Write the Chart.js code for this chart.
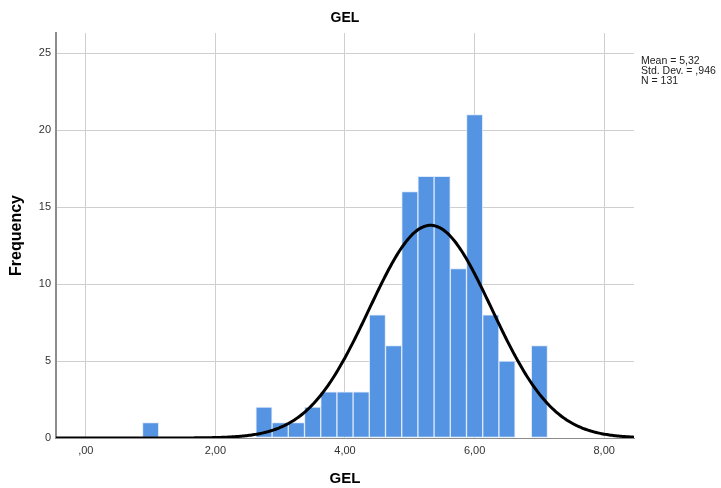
<!DOCTYPE html>
<html>
<head>
<meta charset="utf-8">
<script src="https://cdn.jsdelivr.net/npm/chart.js@4/dist/chart.umd.min.js"></script>
<style>
  html, body { margin: 0; padding: 0; background: #ffffff; }
  #wrap { width: 721px; height: 488px; }
</style>
</head>
<body>
<div id="wrap"><canvas id="c" width="721" height="488"></canvas></div>
<script>
// Histogram of GEL: bin centres (width 0.25) and their frequencies
const binCenters = [1.00, 2.75, 3.00, 3.25, 3.50, 3.75, 4.00, 4.25, 4.50, 4.75, 5.00, 5.25, 5.50, 5.75, 6.00, 6.25, 6.50, 6.75, 7.00];
const binCounts  = [1,    2,    1,    1,    2,    3,    3,    3,    8,    6,    16,   17,   17,   11,   21,   8,    5,    0,    6];
const binWidth = 0.25;

// Summary statistics shown beside the plot
const statMean = 5.32;
const statSD = 0.946;
const statN = 131;
const statLines = ['Mean = 5,32', 'Std. Dev. = ,946', 'N = 131'];
const chartTitle = 'GEL';

// Axis ticks
const xTicks = [0, 2, 4, 6, 8];
const yTicks = [0, 5, 10, 15, 20, 25];
const xMin = -0.46, xMax = 8.46;
const yMax = 26.3;

// Fitted normal curve, scaled to the histogram (N * bin width)
const curvePts = [];
for (let x = xMin; x <= xMax + 1e-9; x += 0.02) {
  const z = (x - statMean) / statSD;
  const dens = Math.exp(-0.5 * z * z) / (statSD * Math.sqrt(2 * Math.PI));
  curvePts.push({ x: x, y: dens * statN * binWidth });
}

const fmtX = v => {
  const s = v.toFixed(2).replace('.', ',');
  return s.startsWith('0,') ? s.slice(1) : s;
};

const FONT = '"Liberation Sans", Arial, sans-serif';

// Title centred over the plot area, plus the statistics block on the right
const annotations = {
  id: 'annotations',
  afterDraw(chart) {
    const ctx = chart.ctx;
    const area = chart.chartArea;
    ctx.save();
    ctx.fillStyle = '#000';
    ctx.font = 'bold 14px ' + FONT;
    ctx.textBaseline = 'middle';
    ctx.textAlign = 'center';
    ctx.fillText(chartTitle, (area.left + area.right) / 2, 18);

    ctx.fillStyle = '#222';
    ctx.font = '10.5px ' + FONT;
    ctx.textAlign = 'left';
    statLines.forEach((t, i) => ctx.fillText(t, 641, 61 + i * 10));
    ctx.restore();
  }
};

new Chart(document.getElementById('c'), {
  type: 'bar',
  data: {
    datasets: [
      {
        type: 'line',
        data: curvePts,
        borderColor: '#000000',
        borderWidth: 3,
        pointRadius: 0,
        tension: 0,
        fill: false,
        order: 0
      },
      {
        type: 'bar',
        data: binCenters.map((c, i) => ({ x: c, y: binCounts[i] })),
        backgroundColor: '#5593e3',
        borderColor: 'rgba(220,232,250,0.9)',
        borderWidth: 1,
        borderSkipped: false,
        barPercentage: 1.0,
        categoryPercentage: 1.0,
        order: 1
      }
    ]
  },
  options: {
    responsive: false,
    animation: false,
    devicePixelRatio: 1,
    layout: { padding: { top: 33, right: 87, bottom: 0, left: 0 } },
    plugins: {
      legend: { display: false },
      tooltip: { enabled: false },
      title: { display: false }
    },
    scales: {
      x: {
        type: 'linear',
        min: xMin,
        max: xMax,
        offset: false,
        afterBuildTicks: s => { s.ticks = xTicks.map(v => ({ value: v })); },
        afterFit: s => { s.height = 50; },
        grid: { color: '#cfcfcf', lineWidth: 1, drawTicks: false, offset: false },
        border: { color: '#8c8c8c', width: 1 },
        ticks: {
          color: '#333',
          font: { family: FONT, size: 11 },
          padding: 6,
          maxRotation: 0,
          callback: v => fmtX(v)
        },
        title: {
          display: true,
          text: 'GEL',
          color: '#000',
          font: { family: FONT, size: 15, weight: 'bold', lineHeight: 1.2 },
          padding: { top: 0, bottom: 0 }
        }
      },
      y: {
        min: 0,
        max: yMax,
        afterBuildTicks: s => { s.ticks = yTicks.map(v => ({ value: v })); },
        afterFit: s => { s.width = 56; },
        grid: { color: '#cfcfcf', lineWidth: 1, drawTicks: false },
        border: { color: '#8c8c8c', width: 2 },
        ticks: {
          color: '#333',
          font: { family: FONT, size: 11 },
          padding: 5
        },
        title: {
          display: true,
          text: 'Frequency',
          color: '#000',
          font: { family: FONT, size: 16, weight: 'bold', lineHeight: 1.2 },
          padding: { top: 7, bottom: 7 }
        }
      }
    }
  },
  plugins: [annotations]
});
</script>
</body>
</html>
